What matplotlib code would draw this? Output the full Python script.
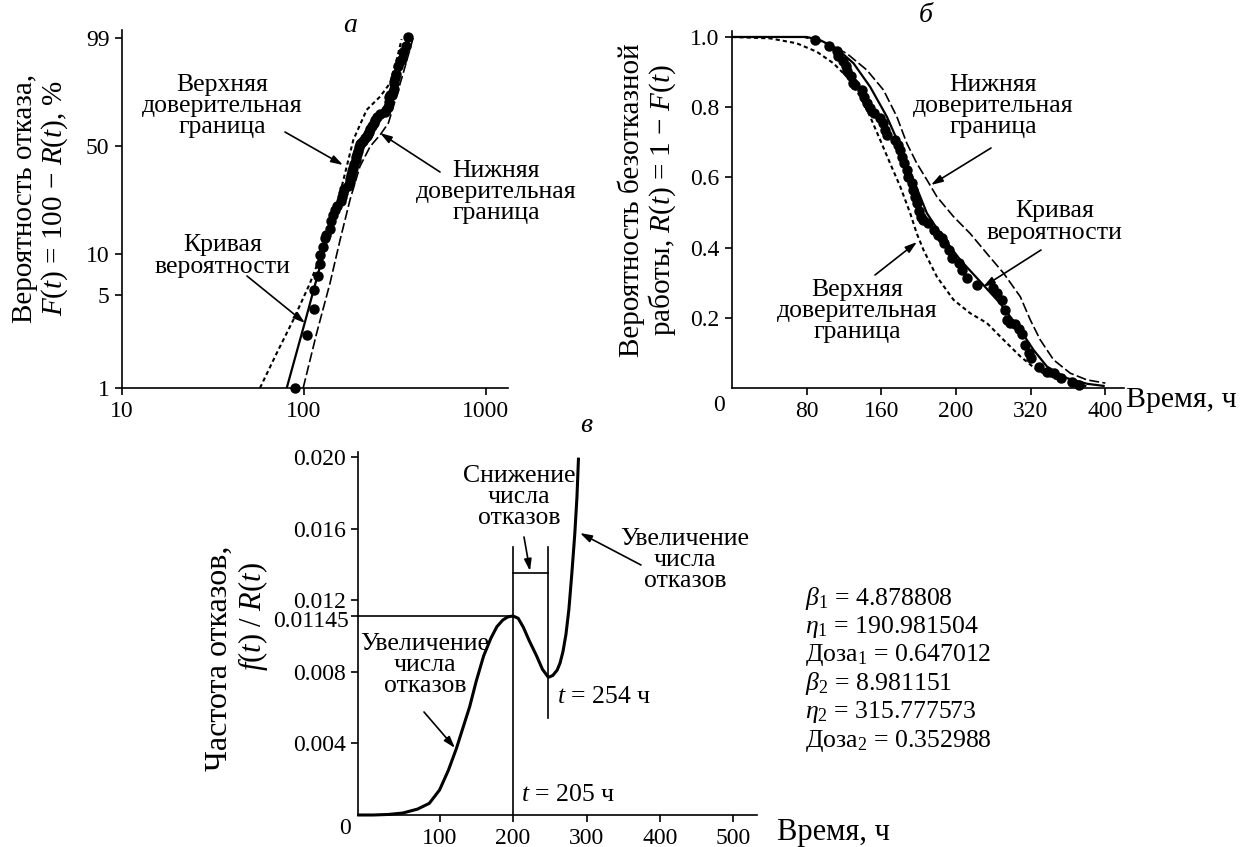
import numpy as np
import matplotlib
matplotlib.use('Agg')
import matplotlib.pyplot as plt
from matplotlib.patches import FancyArrowPatch
from matplotlib.ticker import FixedLocator, FixedFormatter, NullLocator
from matplotlib.transforms import blended_transform_factory, ScaledTranslation

plt.rcParams['font.family'] = ['Liberation Serif', 'DejaVu Serif']
plt.rcParams['mathtext.fontset'] = 'custom'
plt.rcParams['mathtext.rm'] = 'Liberation Serif'
plt.rcParams['mathtext.it'] = 'Liberation Serif:italic'
plt.rcParams['mathtext.bf'] = 'Liberation Serif:bold'

# observed failures: time, h and failure probability F, %
t_obs = [89, 104, 113, 114, 119, 122, 123, 127, 130, 132, 139, 141, 144.5, 148, 152,
         159, 162, 164, 166, 175, 178, 180, 182, 184, 187, 189, 193, 194, 196, 198,
         200, 202, 205, 210, 216, 221, 225, 227, 232, 236, 243, 246, 252, 262, 280,
         284, 289, 293, 295, 298, 303.5, 307, 311, 314, 318, 320, 328.5, 337.5, 344.6,
         352, 364, 372]
F_obs = [1.0, 2.5, 3.9, 5.4, 6.9, 8.4, 9.8, 11.2, 13.0, 13.7, 15.1, 17.0, 18.9, 20.3, 21.7,
         23.2, 24.6, 26.5, 28.0, 29.4, 30.8, 32.2, 34.1, 36.0, 37.9, 39.8, 41.7, 43.6, 45.5, 47.4,
         49.7, 51.2, 52.1, 53.0, 55.0, 56.4, 57.3, 58.7, 60.7, 63.0, 64.4, 66.4, 68.7, 70.6, 71.5,
         72.9, 74.9, 77.8, 80.6, 81.5, 81.9, 83.3, 84.7, 87.7, 90.0, 91.5, 93.9, 95.3, 95.8,
         97.2, 98.2, 99.1]

# panel a: curves on Weibull paper (t, F %)
a_fit_t = [80.4, 101, 122.5, 145, 172, 195, 240, 284, 323, 374]
a_fit_F = [1.0, 3.1, 8.1, 18.2, 30.4, 49.8, 66.6, 73.0, 91.7, 99.1]
a_up_t = [57.3, 70.8, 87.3, 107.9, 133.3, 151.4, 171.8, 186.8, 221, 262, 297, 323, 344]
a_up_F = [1.0, 1.83, 3.25, 6.1, 12.6, 21.3, 38.5, 53.9, 73.0, 80.8, 87.6, 95.6, 98.9]
a_lo_t = [99, 117.5, 139, 158, 179, 203, 231, 262, 291, 310, 351, 398]
a_lo_F = [1.0, 2.6, 6.1, 12.6, 23.7, 38.5, 49.8, 57.0, 64.6, 75.0, 91.7, 99.0]

# panel b: reliability curves (t, R)
b_fit_t = [0, 80, 94.4, 112.3, 130.2, 148, 165.9, 180.2, 194.4, 208.8, 223.1, 244.5, 266,
           287.4, 308.9, 323.2, 337.5, 358.9, 380.4, 398.2]
b_fit_R = [1.0, 1.0, 0.991, 0.967, 0.925, 0.858, 0.773, 0.687, 0.593, 0.498, 0.44, 0.365,
           0.303, 0.241, 0.165, 0.108, 0.061, 0.028, 0.012, 0.006]
b_lo_t = [0, 76.5, 101.5, 123, 144.4, 162.3, 176.6, 187.3, 198, 208.8, 219.5, 237.4, 255.2,
          273.1, 291, 308.9, 319.6, 330.3, 344.6, 362.5, 380.4, 400]
b_lo_R = [1.0, 1.0, 0.982, 0.953, 0.906, 0.849, 0.773, 0.697, 0.64, 0.593, 0.545, 0.488, 0.44,
          0.383, 0.327, 0.26, 0.194, 0.137, 0.08, 0.042, 0.023, 0.014]
b_up_t = [0, 40.8, 69.3, 90.8, 108.7, 126.6, 137.3, 148, 158.7, 169.4, 180.2, 190.9, 198,
          205.2, 219.5, 237.4, 255.2, 273.1, 291, 308.9, 326.8, 344.6, 362.5, 380.4]
b_up_R = [1.0, 0.996, 0.982, 0.958, 0.925, 0.877, 0.83, 0.773, 0.707, 0.64, 0.574, 0.498, 0.44,
          0.393, 0.317, 0.251, 0.213, 0.185, 0.137, 0.09, 0.051, 0.028, 0.014, 0.005]

# panel c: failure rate f(t)/R(t)
c_t = [-10, 10, 30, 50, 70, 86, 100, 112, 123, 132, 141, 150, 160, 170, 178, 186, 193, 200,
       207, 214, 222, 232, 240, 248, 254, 260, 264, 268, 272, 276, 280, 284, 287, 289]
c_h = [0.0, 0.0, 0.00003, 0.00011, 0.00033, 0.00065, 0.0014, 0.0025, 0.00373, 0.0049, 0.00606,
       0.0075, 0.0089, 0.0099, 0.01053, 0.0109, 0.01108, 0.01113, 0.011, 0.0105, 0.00975,
       0.0089, 0.00815, 0.0077, 0.0078, 0.0081, 0.0085, 0.00915, 0.0101, 0.0115, 0.0135,
       0.0157, 0.0178, 0.0199]

params = ['$\\beta_1$ = 4.878808', '$\\eta_1$ = 190.981504', 'Доза$_1$ = 0.647012',
          '$\\beta_2$ = 8.981151', '$\\eta_2$ = 315.777573', 'Доза$_2$ = 0.352988']

W, H = 1252, 847
fig = plt.figure(figsize=(W / 100, H / 100), dpi=100)


def px_axes(l, t, r, b):
    return fig.add_axes([l / W, 1 - b / H, (r - l) / W, (b - t) / H])


def ftext(x, y, s, **kw):
    kw.setdefault('ha', 'center')
    kw.setdefault('va', 'center')
    fig.text(x / W, 1 - y / H, s, **kw)


def arrow(tail, tip):
    fig.add_artist(FancyArrowPatch(
        (tail[0] / W, 1 - tail[1] / H), (tip[0] / W, 1 - tip[1] / H),
        transform=fig.transFigure, arrowstyle='-|>,head_length=7,head_width=2.2',
        color='black', lw=1.2, shrinkA=0, shrinkB=0))


def style(ax):
    for s in ['top', 'right']:
        ax.spines[s].set_visible(False)
    for s in ['left', 'bottom']:
        ax.spines[s].set_linewidth(1.2)
    ax.tick_params(direction='out', length=5, width=1.2, labelsize=17, pad=4)


TICK = 17
ANN = 18.5
LAB = 21

# ---------- panel a ----------
def wb_fwd(F):
    p = np.clip(np.asarray(F, float) / 100.0, 1e-9, 1 - 1e-12)
    return np.log(-np.log(1 - p))


def wb_inv(w):
    return 100 * (1 - np.exp(-np.exp(w)))


ax1 = px_axes(122, 30, 508, 388)
ax1.set_xscale('log')
ax1.set_yscale('function', functions=(wb_fwd, wb_inv))
ax1.set_xlim(10, 1322)
ax1.set_ylim(1, 99.5)
ax1.plot(a_up_t, a_up_F, color='black', lw=1.5, dashes=(2, 1.5))
ax1.plot(a_lo_t, a_lo_F, color='black', lw=1.2, dashes=(6, 2))
ax1.plot(a_fit_t, a_fit_F, color='black', lw=1.6)
ax1.plot(t_obs, F_obs, 'o', color='black', ms=6.5, clip_on=False)
ax1.xaxis.set_major_locator(FixedLocator([10, 100, 1000]))
ax1.xaxis.set_major_formatter(FixedFormatter(['10', '100', '1000']))
ax1.xaxis.set_minor_locator(NullLocator())
ax1.yaxis.set_major_locator(FixedLocator([1, 5, 10, 50, 99]))
ax1.yaxis.set_major_formatter(FixedFormatter(['1', '5', '10', '50', '99']))
ax1.yaxis.set_minor_locator(NullLocator())
style(ax1)

ftext(350, 25, 'а', fontsize=20, style='italic')
ftext(41, 198, 'Вероятность отказа,\n$F(t)$ = 100 − $R(t)$, %', fontsize=LAB,
      rotation=90, linespacing=1.05)
ftext(222, 106, 'Верхняя\nдоверительная\nграница', fontsize=ANN, linespacing=0.95)
ftext(496, 192, 'Нижняя\nдоверительная\nграница', fontsize=ANN, linespacing=0.95)
ftext(223, 256, 'Кривая\nвероятности', fontsize=ANN, linespacing=0.95)
arrow((285, 132), (343, 165))
arrow((440, 172), (380, 133))
arrow((247, 276), (305, 323))

# ---------- panel b ----------
R_obs = [1 - f / 100 for f in F_obs]
ax2 = px_axes(732, 31, 1124, 388)
ax2.set_xlim(0, 420)
ax2.set_ylim(0, 1.017)
ax2.plot(b_up_t, b_up_R, color='black', lw=1.5, dashes=(2, 1.5))
ax2.plot(b_lo_t, b_lo_R, color='black', lw=1.2, dashes=(6, 2))
ax2.plot(b_fit_t, b_fit_R, color='black', lw=1.6)
ax2.plot(t_obs, R_obs, 'o', color='black', ms=6.5, clip_on=False)
ax2.set_xticks([80, 160, 240, 320, 400])
ax2.set_xticklabels(['80', '160', '200', '320', '400'])
ax2.set_yticks([0.2, 0.4, 0.6, 0.8, 1.0])
ax2.set_yticklabels(['0.2', '0.4', '0.6', '0.8', '1.0'])
style(ax2)
ax2.text(-0.034, -0.048, '0', transform=ax2.transAxes, fontsize=TICK, ha='center', va='center')
ax2.text(1.006, -0.034, 'Время, ч', transform=ax2.transAxes, fontsize=21.5, ha='left', va='center')

ftext(926, 15, 'б', fontsize=20, style='italic')
ftext(648, 200, 'Вероятность безотказной\nработы, $R(t)$ = 1 − $F(t)$', fontsize=LAB,
      rotation=90, linespacing=1.05)
ftext(993, 106, 'Нижняя\nдоверительная\nграница', fontsize=ANN, linespacing=0.95)
ftext(1055, 222, 'Кривая\nвероятности', fontsize=ANN, linespacing=0.95)
ftext(857, 311, 'Верхняя\nдоверительная\nграница', fontsize=ANN, linespacing=0.95)
arrow((991, 148), (931, 185))
arrow((1041, 250), (983, 287))
arrow((875, 275), (917, 242))

# ---------- panel c ----------
ax3 = px_axes(358, 452, 757, 815)
ax3.set_xlim(-11, 532)
ax3.set_ylim(0, 0.0203)
ax3.plot(c_t, c_h, color='black', lw=2.2, clip_on=False)
ip = int(np.argmax(c_h[:25]))
im = ip + int(np.argmin(c_h[ip:27]))
t_pk, h_pk = c_t[ip], c_h[ip]
t_mn = c_t[im]
ax3.plot([-11, t_pk], [h_pk, h_pk], color='black', lw=1.2, clip_on=False)
ax3.plot([t_pk, t_pk], [0, 0.0150], color='black', lw=1.2)
ax3.plot([t_mn, t_mn], [0.0054, 0.0150], color='black', lw=1.2)
ax3.plot([t_pk, t_mn], [0.01355, 0.01355], color='black', lw=1.2)
ax3.set_xticks([100, 200, 300, 400, 500])
ax3.set_xticklabels(['100', '200', '300', '400', '500'])
ax3.set_yticks([0.004, 0.008, h_pk, 0.012, 0.016, 0.020])
ax3.set_yticklabels(['0.004', '0.008', '', '0.012', '0.016', '0.020'])
style(ax3)
# label of the peak level, set a touch lower so it sits under 0.012
tr = blended_transform_factory(ax3.transAxes, ax3.transData) + \
    ScaledTranslation(-9 / 100, -6 / 100, fig.dpi_scale_trans)
ax3.text(0, h_pk, '0.01145', transform=tr, fontsize=TICK, ha='right', va='center')
ax3.text(-0.033, -0.036, '0', transform=ax3.transAxes, fontsize=TICK, ha='center', va='center')
ax3.text(1.05, -0.047, 'Время, ч', transform=ax3.transAxes, fontsize=22, ha='left', va='center')

ftext(586, 425, 'в', fontsize=20, style='italic')
ftext(219, 658, 'Частота отказов,', fontsize=23, rotation=90)
ftext(253, 617, '$f(t)$ / $R(t)$', fontsize=22, rotation=90)
ftext(519, 497, 'Снижение\nчисла\nотказов', fontsize=ANN, linespacing=0.95)
ftext(425, 665, 'Увеличение\nчисла\nотказов', fontsize=ANN, linespacing=0.95)
ftext(685, 560, 'Увеличение\nчисла\nотказов', fontsize=ANN, linespacing=0.95)
ftext(557, 697, '$t$ = 254 ч', fontsize=ANN, ha='left')
ftext(521, 795, '$t$ = 205 ч', fontsize=ANN, ha='left')
arrow((524, 537), (530, 571))
arrow((424, 712), (455, 748))
arrow((641, 565), (580, 533))

for i, s in enumerate(params):
    ftext(805, 598 + i * 28.5, s, fontsize=18.5, ha='left')

fig.savefig('out.png', dpi=100)
